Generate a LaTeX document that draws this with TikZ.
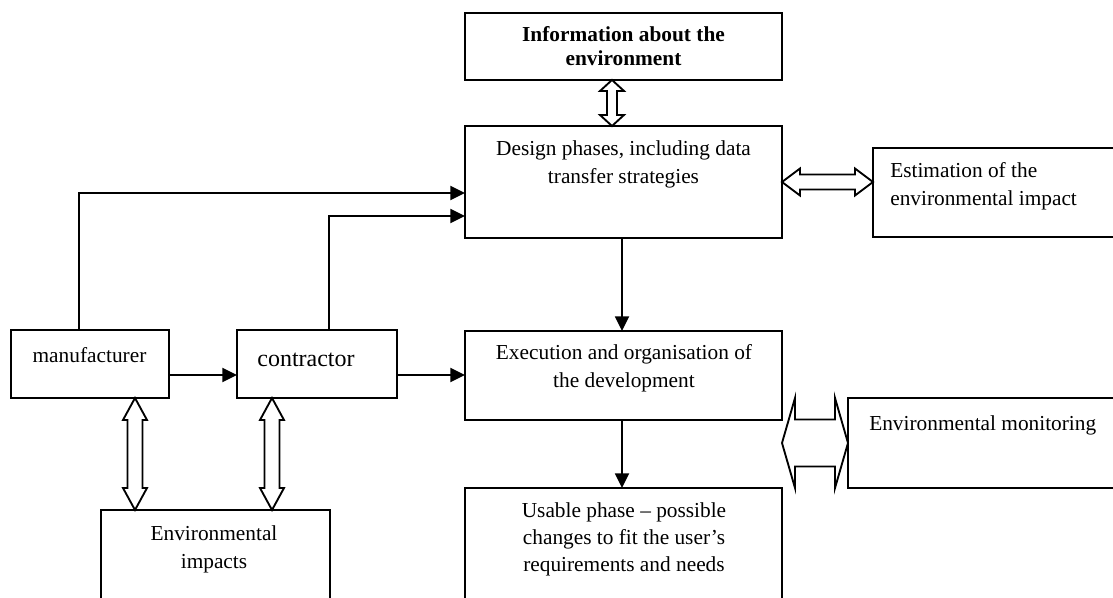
\documentclass[tikz,border=0pt]{standalone}
\usepackage{fontspec}
\setmainfont{Liberation Serif}
\usetikzlibrary{arrows.meta,calc}
\def\pxu{*0.75pt}
\newcommand\vdarrow[5]{\draw[hollow] (#1) -- ($(#1)+(-#4,#5)$) -- ($(#1)+(-#3,#5)$) -- ($(#2)+(-#3,-#5)$) -- ($(#2)+(-#4,-#5)$) -- (#2) -- ($(#2)+(#4,-#5)$) -- ($(#2)+(#3,-#5)$) -- ($(#1)+(#3,#5)$) -- ($(#1)+(#4,#5)$) -- cycle;}
\newcommand\hdarrow[5]{\draw[hollow] (#1) -- ($(#1)+(#5,-#4)$) -- ($(#1)+(#5,-#3)$) -- ($(#2)+(-#5,-#3)$) -- ($(#2)+(-#5,-#4)$) -- (#2) -- ($(#2)+(-#5,#4)$) -- ($(#2)+(-#5,#3)$) -- ($(#1)+(#5,#3)$) -- ($(#1)+(#5,#4)$) -- cycle;}
\begin{document}
\begin{tikzpicture}[x=0.75pt, y=-0.75pt,
  box/.style={draw, line width=1.45pt, inner sep=0pt, outer sep=0pt, anchor=north west},
  arr/.style={line width=1.4pt, -{Triangle[length=11pt,width=10.5pt]}},
  hollow/.style={draw, line width=1.4pt, fill=white, line join=miter},
  txt/.style={font=\fontsize{16}{21}\selectfont, align=center, inner sep=0pt}]
\clip (0,0) rectangle (1113,598);
\fill[white] (0,0) rectangle (1113,598);
% boxes
\node[box, minimum width=317\pxu, minimum height=67\pxu, align=center,
      font=\fontsize{16}{18}\selectfont\bfseries] (info) at (465,13)
      {Information about the\\environment};
\node[box, minimum width=317\pxu, minimum height=112\pxu] (design) at (465,126) {};
\node[box, minimum width=260\pxu, minimum height=89\pxu] (est) at (873,148) {};
\node[box, minimum width=158\pxu, minimum height=68\pxu] (man) at (11,330) {};
\node[box, minimum width=160\pxu, minimum height=68\pxu] (con) at (237,330) {};
\node[box, minimum width=317\pxu, minimum height=89\pxu] (exec) at (465,331) {};
\node[box, minimum width=317\pxu, minimum height=130\pxu] (use) at (465,488) {};
\node[box, minimum width=280\pxu, minimum height=90\pxu] (mon) at (848,398) {};
\node[box, minimum width=229\pxu, minimum height=110\pxu] (imp) at (101,510) {};
% texts
\node[txt, anchor=north] (dtext) at (623.5,140.4) {Design phases, including data\\transfer strategies};
\node[txt, align=left, anchor=north west] (etext) at (890,162.4) {Estimation of the\\environmental impact};
\node[txt, anchor=base west] (mtext) at (869,430) {Environmental monitoring};
\node[txt, anchor=base] (mantext) at (89.5,363) {manufacturer};
\node[txt, font=\fontsize{18}{22}\selectfont, anchor=base] (context) at (306,367) {contractor};
\node[txt, anchor=north] (itext) at (214,525.4) {Environmental\\impacts};
\node[txt, anchor=north] (xtext) at (624,344.4) {Execution and organisation of\\the development};
\node[txt, font=\fontsize{16}{20.25}\selectfont, anchor=north] (utext) at (624,502.4) {Usable phase – possible\\changes to fit the user’s\\requirements and needs};
% line connectors
\coordinate (mup) at ($(man.north)+(-11,0)$);
\coordinate (mdst) at ($(design.west)+(0,11)$);
\draw[arr] (mup) |- (mdst);
\coordinate (cup) at ($(con.north)+(12,0)$);
\coordinate (cdst) at ($(design.west)+(0,34)$);
\draw[arr] (cup) |- (cdst);
\coordinate (mc) at ($(man.east)+(0,11)$);
\draw[arr] (mc) -- (mc -| con.west);
\draw[arr] (con.east |- mc) -- (exec.west |- mc);
\coordinate (dx) at ($(design.south)+(-1.5,0)$);
\draw[arr] (dx) -- (dx |- exec.north);
\coordinate (xx) at ($(exec.south)+(-1.5,0)$);
\draw[arr] (xx) -- (xx |- use.north);
% hollow double arrows
\coordinate (ia) at ($(info.south)+(-11.5,0)$);
\coordinate (ib) at (ia |- design.north);
\vdarrow{ia}{ib}{5}{12}{11}
\coordinate (da) at (design.east);
\coordinate (db) at (est.west |- design.east);
\hdarrow{da}{db}{7.5}{13.5}{18}
\coordinate (ma) at ($(man.south)+(45,0)$);
\coordinate (mb) at (ma |- imp.north);
\vdarrow{ma}{mb}{7.5}{12}{22}
\coordinate (ca) at ($(con.south)+(-45,0)$);
\coordinate (cb) at (ca |- imp.north);
\vdarrow{ca}{cb}{7.5}{12}{22}
\coordinate (ea) at (exec.east |- mon.west);
\hdarrow{ea}{mon.west}{23.5}{45}{13}
\end{tikzpicture}
\end{document}
